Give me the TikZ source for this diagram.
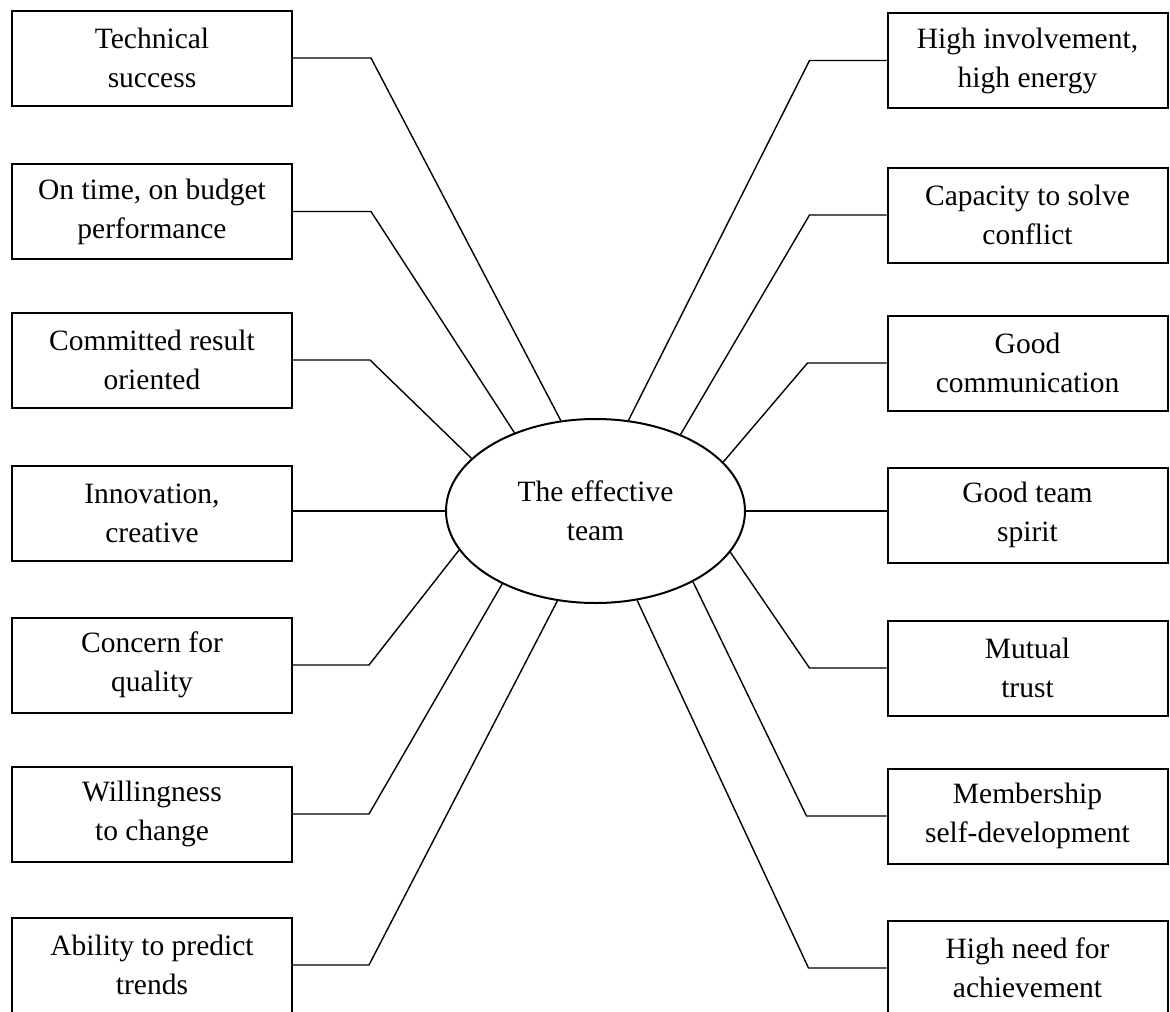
\documentclass[tikz,border=0pt]{standalone}
\usepackage{fontspec}
\setmainfont{Liberation Serif}
\usetikzlibrary{shapes.geometric}
\begin{document}
\begin{tikzpicture}[x=1pt,y=-1pt,
  quality/.style={draw=black,line width=2pt,minimum width=280,minimum height=95,
    inner sep=0pt,align=center,font=\fontsize{29.5}{39}\selectfont},
  hub/.style={draw=black,line width=2pt,ellipse,minimum width=299,minimum height=184,
    inner sep=0pt,align=center,font=\fontsize{29.5}{39}\selectfont},
  link/.style={draw=black,line width=1.4pt,line join=miter}]
\useasboundingbox (0,0) rectangle (1170,1012);

% central ellipse
\node[hub] (c) at (595.5,511) {The effective\\team};

% left column
\node[quality] (l1) at (152,58)    {Technical\\success};
\node[quality] (l2) at (152,211.5) {On time, on budget\\performance};
\node[quality] (l3) at (152,360)   {Committed result\\oriented};
\node[quality] (l4) at (152,513)   {Innovation,\\creative};
\node[quality] (l5) at (152,665)   {Concern for\\quality};
\node[quality] (l6) at (152,814)   {Willingness\\to change};
\node[quality] (l7) at (152,965)   {Ability to predict\\trends};

% right column
\node[quality] (r1) at (1027.5,60.5)  {High involvement,\\high energy};
\node[quality] (r2) at (1027.5,215)   {Capacity to solve\\conflict};
\node[quality] (r3) at (1027.5,363)   {Good\\communication};
\node[quality] (r4) at (1027.5,515)   {Good team\\spirit};
\node[quality] (r5) at (1027.5,668)   {Mutual\\trust};
\node[quality] (r6) at (1027.5,816)   {Membership\\self-development};
\node[quality] (r7) at (1027.5,968)   {High need for\\achievement};

% connectors: short horizontal run, then a slant to the ellipse
\draw[link] (l1.east) -- ++(78,0) -- (c.111.3);
\draw[link] (l2.east) -- ++(78,0) -- (c.136.6);
\draw[link] (l3.east) -- ++(77,0) -- (c.157.7);
\draw[link] (c.west) -- (c.west -| l4.east);
\draw[link] (l5.east) -- ++(76,0) -- (c.196.3);
\draw[link] (l6.east) -- ++(76,0) -- (c.218.7);
\draw[link] (l7.east) -- ++(76,0) -- (c.247.7);

\draw[link] (r1.west) -- ++(-77,0) -- (c.70.9);
\draw[link] (r2.west) -- ++(-77,0) -- (c.42.0);
\draw[link] (r3.west) -- ++(-79,0) -- (c.21.6);
\draw[link] (c.east) -- (c.east -| r4.west);
\draw[link] (r5.west) -- ++(-77,0) -- (c.-17.3);
\draw[link] (r6.west) -- ++(-80,0) -- (c.-36.1);
\draw[link] (r7.west) -- ++(-78,0) -- (c.-65);
\end{tikzpicture}
\end{document}
